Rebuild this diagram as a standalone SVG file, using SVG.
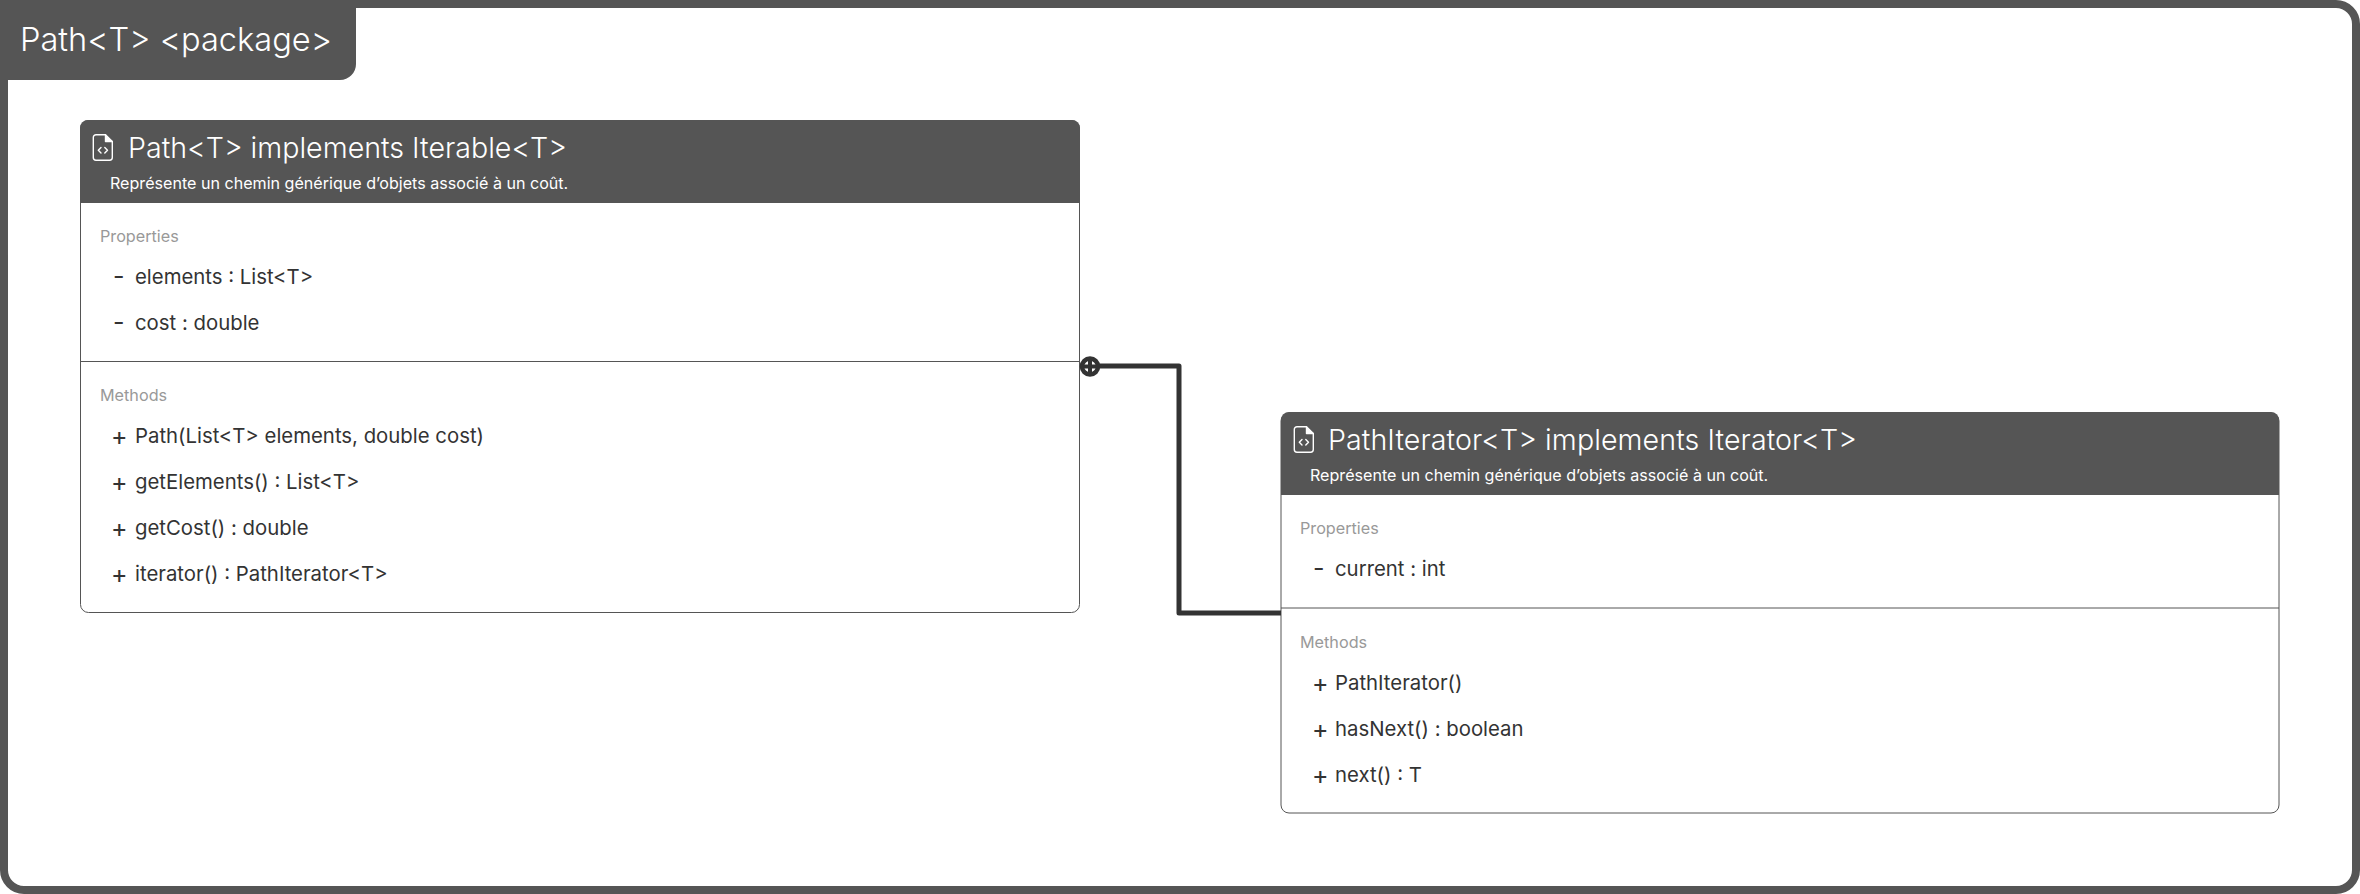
<svg xmlns="http://www.w3.org/2000/svg" width="2360" height="894" viewBox="0 0 2360 894">
<defs>
<style>
text{font-family:Inter,"Noto Sans","Liberation Sans",sans-serif}
.head{fill:#555}
.box{fill:#fff;stroke:#555;stroke-width:1}
.sep{stroke:#555;stroke-width:1;fill:none}
.title{font-size:28.6px;font-weight:300;fill:#fff}
.sub{font-size:16.1px;fill:#fff}
.sec{font-size:16.2px;fill:#999}
.mem{font-size:20.35px;fill:#333}
.sym{font-size:25px;fill:#333}
.icon{fill:none;stroke:#fff;stroke-width:1.4;stroke-linejoin:round;stroke-linecap:round}
</style>
<g id="file-icon" class="icon">
<path d="M3 0.7H12.5L19.3 7.5V23.5A2.7 2.7 0 0 1 16.6 26.2H3A2.7 2.7 0 0 1 0.3 23.5V3.4A2.7 2.7 0 0 1 3 0.7Z"/>
<path d="M12.5 0.7V7.5H19.3" fill="#fff"/>
<path d="M8 13.5L5.3 16.3L8 19.1M11.8 13.5L14.5 16.3L11.8 19.1"/>
</g>
</defs>
<rect width="2360" height="894" fill="#fff"/>
<g id="package">
<rect x="4" y="4" width="2352" height="886" rx="20" ry="20" fill="none" stroke="#555" stroke-width="8"/>
<path class="head" d="M0 0H356V64A16 16 0 0 1 340 80H8V96H0Z"/>
<text x="20" y="51" font-size="32.6" font-weight="300" fill="#fff">Path&lt;T&gt; &lt;package&gt;</text>
</g>
<g id="node-path">
<rect class="box" x="80.500" y="120.500" width="999" height="492" rx="8"/>
<path class="head" d="M80 128A8 8 0 0 1 88 120H1072A8 8 0 0 1 1080 128V203H80Z"/>
<use href="#file-icon" x="93" y="134"/>
<text class="title" x="128" y="158">Path&lt;T&gt; implements Iterable&lt;T&gt;</text>
<text class="sub" x="110" y="189">Représente un chemin générique d’objets associé à un coût.</text>
<text class="sec" x="100" y="242">Properties</text>
<text class="sym" x="113" y="285">-</text><text class="mem" x="135" y="284">elements : List&lt;T&gt;</text>
<text class="sym" x="113" y="331">-</text><text class="mem" x="135" y="330">cost : double</text>
<path class="sep" d="M80 361.500H1080"/>
<text class="sec" x="100" y="401">Methods</text>
<text class="sym" x="111" y="445">+</text><text class="mem" x="135" y="443">Path(List&lt;T&gt; elements, double cost)</text>
<text class="sym" x="111" y="491">+</text><text class="mem" x="135" y="489">getElements() : List&lt;T&gt;</text>
<text class="sym" x="111" y="537">+</text><text class="mem" x="135" y="535">getCost() : double</text>
<text class="sym" x="111" y="583">+</text><text class="mem" x="135" y="581">iterator() : PathIterator&lt;T&gt;</text>
</g>
<g id="node-pathiterator">
<rect class="box" x="1281" y="413" width="998" height="400" rx="8"/>
<path class="head" d="M1281 420A8 8 0 0 1 1289 412H2271A8 8 0 0 1 2279 420V495H1281Z"/>
<use href="#file-icon" x="1294" y="426"/>
<text class="title" x="1328" y="450" textLength="529">PathIterator&lt;T&gt; implements Iterator&lt;T&gt;</text>
<text class="sub" x="1310" y="481">Représente un chemin générique d’objets associé à un coût.</text>
<text class="sec" x="1300" y="534">Properties</text>
<text class="sym" x="1313" y="577">-</text><text class="mem" x="1335" y="576">current : int</text>
<path class="sep" d="M1281 608H2279"/>
<text class="sec" x="1300" y="648">Methods</text>
<text class="sym" x="1312" y="692">+</text><text class="mem" x="1335" y="690">PathIterator()</text>
<text class="sym" x="1312" y="738">+</text><text class="mem" x="1335" y="736">hasNext() : boolean</text>
<text class="sym" x="1312" y="784">+</text><text class="mem" x="1335" y="782">next() : T</text>
</g>
<g id="connectors">
<path d="M1100 366H1179V613H1281" fill="none" stroke="#333" stroke-width="5" stroke-linejoin="round"/>
<circle cx="1090" cy="366.500" r="8" fill="#fff" stroke="#333" stroke-width="4.600"/>
<path d="M1090 358V375M1082 366.500H1098" stroke="#333" stroke-width="4" fill="none"/>
</g>
</svg>
